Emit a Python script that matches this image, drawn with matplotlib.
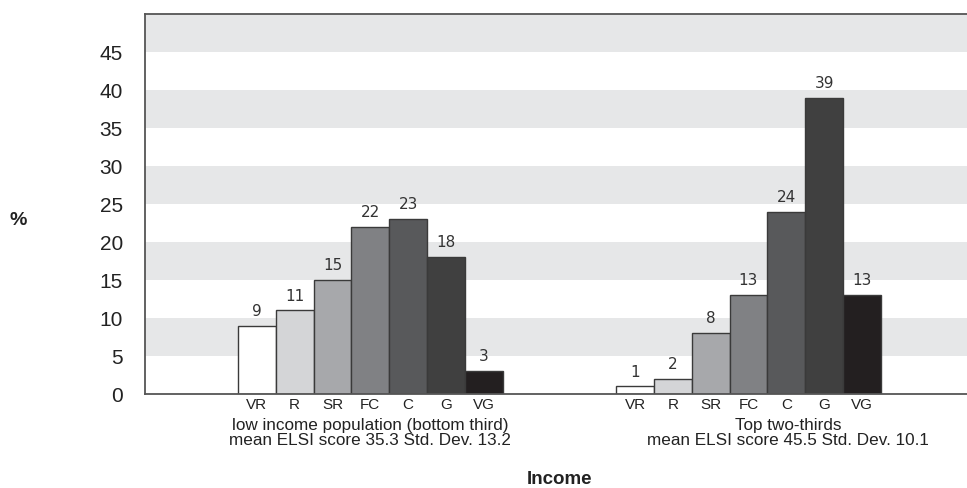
import matplotlib.pyplot as plt
import numpy as np

# share of respondents (%) by ELSI living-standard rating, two income groups
ratings = ["VR", "R", "SR", "FC", "C", "G", "VG"]
low_income = [9, 11, 15, 22, 23, 18, 3]
top_two_thirds = [1, 2, 8, 13, 24, 39, 13]
group_labels = ["low income population (bottom third)\nmean ELSI score 35.3 Std. Dev. 13.2",
                "Top two-thirds\nmean ELSI score 45.5 Std. Dev. 10.1"]
bar_colors = ["#ffffff", "#d4d5d7", "#a7a8ab", "#808184", "#58595b", "#404040", "#231f20"]
y_ticks = [0, 5, 10, 15, 20, 25, 30, 35, 40, 45]

fig = plt.figure(figsize=(9.67, 4.88), dpi=100)
ax = fig.add_axes([145 / 967, 94 / 488, 822 / 967, 380 / 488])

ax.set_xlim(-2.96, 18.78)
ax.set_ylim(0, 50)

# alternating horizontal bands
for lo in range(5, 50, 10):
    ax.axhspan(lo, lo + 5, color="#e6e7e8", lw=0, zorder=0)

x1 = np.arange(len(ratings))
x2 = x1 + 10
for xs, vals in [(x1, low_income), (x2, top_two_thirds)]:
    ax.bar(xs, vals, width=1.0, color=bar_colors, edgecolor="#3a3a3a",
           linewidth=1.0, zorder=2)
    for x, v in zip(xs, vals):
        ax.text(x, v + 0.9, str(v), ha="center", va="bottom",
                fontsize=11, family="DejaVu Sans", color="#333333")

ax.set_xticks(np.concatenate([x1, x2]))
ax.set_xticklabels(ratings * 2, family="Liberation Sans", fontsize=11, color="#222222")
ax.tick_params(axis="x", length=0, pad=3)

ax.set_yticks(y_ticks)
ax.set_yticklabels([str(t) for t in y_ticks], family="Liberation Sans",
                   fontsize=15, color="#222222")
ax.tick_params(axis="y", length=0, pad=16)

for s in ["top", "left", "bottom"]:
    ax.spines[s].set_color("#555555")
    ax.spines[s].set_linewidth(1.3)
ax.spines["right"].set_visible(False)

# group captions under the category labels
for xc, txt in zip([3.0, 14.05], group_labels):
    ax.text(xc, -3.1, txt, ha="center", va="top", fontsize=12.3,
            family="Liberation Sans", color="#222222", linespacing=1.0,
            transform=ax.transData)

ax.text(8.0, -11.3, "Income", ha="center", va="center", fontsize=13.5,
        fontweight="bold", family="Liberation Sans", color="#222222")
fig.text(18 / 967, 1 - 221 / 488, "%", ha="center", va="center", fontsize=14,
         fontweight="bold", family="Liberation Sans", color="#222222")

fig.savefig("out.png", dpi=100)
